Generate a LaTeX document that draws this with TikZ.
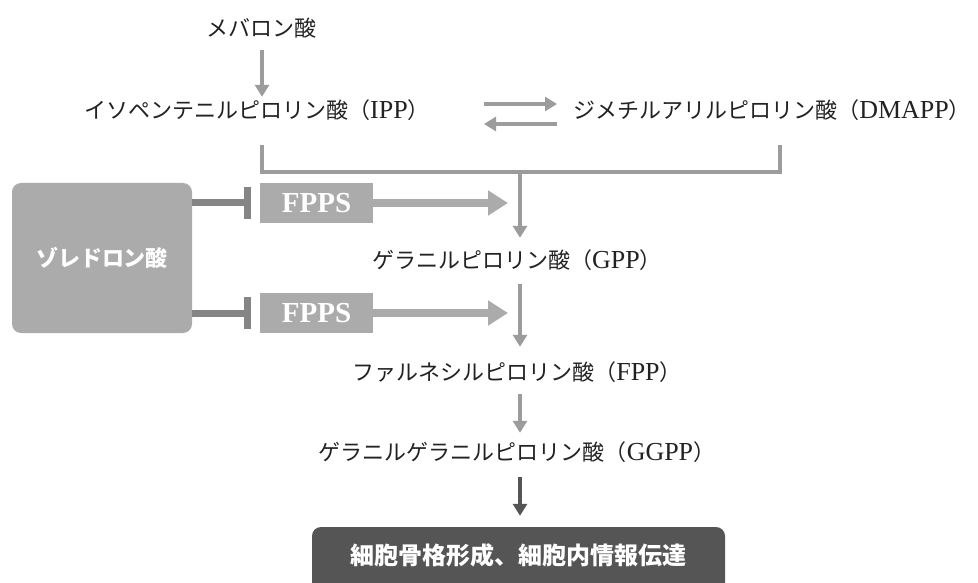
\documentclass[tikz,border=0pt]{standalone}
\usepackage{fontspec}
\setmainfont{Noto Sans CJK JP}
\newfontfamily\lat[Scale=1.18]{Liberation Serif}
\newfontfamily\latb{Liberation Serif}
\usetikzlibrary{arrows.meta}
\definecolor{txtc}{HTML}{222222}
\definecolor{arrg}{HTML}{9C9C9C}
\definecolor{boxg}{HTML}{ABABAB}
\definecolor{inhg}{HTML}{858585}
\definecolor{darkg}{HTML}{555555}
\begin{document}
\begin{tikzpicture}[x=1pt,y=-1pt,
  txt/.style={inner sep=0pt, text height=17pt, text depth=5pt, text=txtc,
    font=\fontsize{22}{26}\selectfont},
  arr/.style={draw=arrg, line width=4.5pt, -{Triangle[length=12pt,width=14pt]}},
  darr/.style={draw=darkg, line width=4.5pt, -{Triangle[length=12pt,width=14pt]}},
  link/.style={draw=arrg, line width=4.5pt},
  bigarr/.style={draw=boxg, line width=8pt, -{Triangle[length=20pt,width=24pt]}},
  inh/.style={draw=inhg, line width=7pt},
  fppsbox/.style={fill=boxg, minimum width=113pt, minimum height=40pt, inner sep=0pt,
    text=white, font=\latb\bfseries\fontsize{29}{30}\selectfont},
  zolbox/.style={fill=boxg, rounded corners=9pt, minimum width=180pt, minimum height=150pt,
    inner sep=0pt, text=white, font=\bfseries\fontsize{22}{26}\selectfont},
  endbox/.style={fill=darkg, rounded corners=9pt, minimum width=413pt, minimum height=70pt,
    inner sep=0pt, text=white, font=\bfseries\fontsize{24}{28}\selectfont}
]
\clip (0,0) rectangle (978,583);
\fill[white] (0,0) rectangle (978,583);

% metabolites
\node[txt] (mev) at (261,31) {メバロン酸};
\node[txt] (ipp) at (257,113) {イソペンテニルピロリン酸（{\lat IPP}）};
\node[txt] (dmapp) at (772,113) {ジメチルアリルピロリン酸（{\lat DMAPP}）};
\node[txt] (gpp) at (517,263) {ゲラニルピロリン酸（{\lat GPP}）};
\node[txt] (fpp) at (517,374) {ファルネシルピロリン酸（{\lat FPP}）};
\node[txt] (ggpp) at (517,454) {ゲラニルゲラニルピロリン酸（{\lat GGPP}）};

% boxes
\node[zolbox] (zol) at (102,258) {ゾレドロン酸};
\node[fppsbox] (f1) at (316.5,203) {FPPS};
\node[fppsbox] (f2) at (316.5,313) {FPPS};
\node[endbox] (cell) at (518.5,562) {};
\node[text=white, font=\bfseries\fontsize{24}{28}\selectfont, inner sep=0pt] (celltxt) at (518.5,555) {細胞骨格形成、細胞内情報伝達};

% coordinates
\coordinate (bl) at (262,145);
\coordinate (br) at (780,145);
\coordinate (bm) at (520,172);
\coordinate (t1) at (247,203);
\coordinate (t2) at (247,313);
\coordinate (eqL) at (484,114);
\coordinate (eqR) at (557,114);

% mevalonate -> IPP
\draw[arr] ([yshift=-8pt]mev.south -| bl) -- ([yshift=5pt]ipp.north -| bl);
% equilibrium
\draw[arr] ([yshift=10pt]eqL) -- ([yshift=10pt]eqR);
\draw[arr] ([yshift=-10pt]eqR) -- ([yshift=-10pt]eqL);
% bracket
\draw[link, line cap=butt] (bl) -- (bl |- bm) -- (br |- bm) -- (br);
\draw[arr] ([yshift=2.25pt]bm) -- ([yshift=14pt]gpp.north -| bm);
% GPP -> FPP -> GGPP -> cell
\draw[arr] ([yshift=-10pt]gpp.south -| bm) -- ([yshift=16pt]fpp.north -| bm);
\draw[arr] ([yshift=-9pt]fpp.south -| bm) -- ([yshift=10pt]ggpp.north -| bm);
\draw[darr] ([yshift=-12pt]ggpp.south -| bm) -- ([yshift=11pt]cell.north -| bm);
% FPPS arrows
\draw[bigarr] (f1.east) -- (f1.east -| 508,0);
\draw[bigarr] (f2.east) -- (f2.east -| 508,0);
% inhibition
\draw[inh] (zol.east |- t1) -- (t1);
\draw[inh] ([yshift=16pt]t1) -- ([yshift=-16pt]t1);
\draw[inh] (zol.east |- t2) -- (t2);
\draw[inh] ([yshift=16pt]t2) -- ([yshift=-16pt]t2);
\end{tikzpicture}
\end{document}
